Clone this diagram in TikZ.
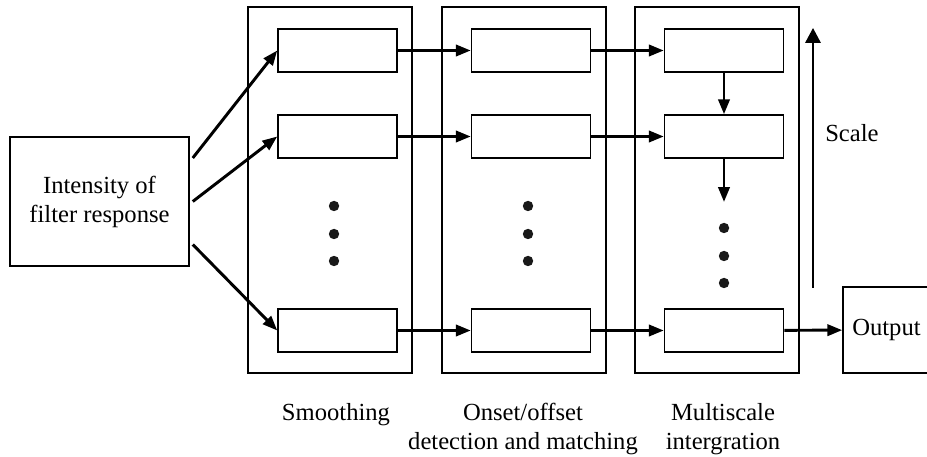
\documentclass[tikz,border=0pt]{standalone}
\usepackage{fontspec}
\setmainfont{Liberation Serif}
\usetikzlibrary{arrows.meta}

\begin{document}
\begin{tikzpicture}[x=0.025cm,y=-0.025cm,
  >={Triangle[length=0.37cm,width=0.28cm]},
  every node/.style={font=\fontsize{17.5}{20.6}\selectfont},
  unit/.style={draw,line width=1.05pt,minimum width=2.975cm,minimum height=1.075cm,inner sep=0},
  stage/.style={draw,line width=1.05pt,minimum width=4.1cm,minimum height=9.15cm,inner sep=0},
  stagename/.style={anchor=north,inner sep=0,align=center},
  flow/.style={->,line width=2.1pt}]
\useasboundingbox (0,0) rectangle (927,457);
\clip (0,0) rectangle (927,457);

% the three stages
\node[stage](smooth) at (330,190){};
\node[stage](onset) at (524,190){};
\node[stage](multi) at (717,190){};

\node[draw,line width=1.05pt,minimum width=4.475cm,minimum height=3.225cm,align=center](in) at (99.5,201.5){Intensity of\\filter response};
\node[draw,line width=1.05pt,minimum width=2.175cm,minimum height=2.15cm](out) at (886.5,330){Output};

\node[unit](a1) at (337.5,50.5){};
\node[unit](a2) at (337.5,136.5){};
\node[unit](a3) at (337.5,330.5){};
\node[unit](b1) at (531,50.5){};
\node[unit](b2) at (531,136.5){};
\node[unit](b3) at (531,330.5){};
\node[unit](c1) at (724,50.5){};
\node[unit](c2) at (724,136.5){};
\node[unit](c3) at (724,330.5){};

% dots between the rows
\fill[black!90] (334,206) circle (0.13cm) (334,234) circle (0.13cm) (334,261) circle (0.13cm);
\fill[black!90] (528,206) circle (0.13cm) (528,234) circle (0.13cm) (528,261) circle (0.13cm);
\fill[black!90] (724,228) circle (0.13cm) (724,256) circle (0.13cm) (724,283) circle (0.13cm);

\node[stagename](capA) at (336,403){Smoothing};
\node[stagename](capB) at (523,403){Onset/offset\\detection and matching};
\node[stagename](capC) at (723,403){Multiscale\\intergration};
\node[anchor=west,inner sep=0](scl) at (825,133){Scale};

\coordinate (c2dn) at (724,202);
\coordinate (lo) at (813,288);
\coordinate (hi) at (813,28);

\draw[flow]([shift={(3,-43.5)}]in.east)--(a1.west);
\draw[flow]([shift={(3,0)}]in.east)--(a2.west);
\draw[flow]([shift={(3,43)}]in.east)--(a3.west);
\draw[flow](a1)--(b1);
\draw[flow](b1)--(c1);
\draw[flow](a2)--(b2);
\draw[flow](b2)--(c2);
\draw[flow](a3)--(b3);
\draw[flow](b3)--(c3);
\draw[flow](c3)--(out);
\draw[flow](c1)--(c2);
\draw[flow](c2)--(c2dn);
\draw[->,line width=1.5pt,>={Triangle[length=0.37cm,width=0.38cm]}](lo)--(hi);
\end{tikzpicture}
\end{document}
